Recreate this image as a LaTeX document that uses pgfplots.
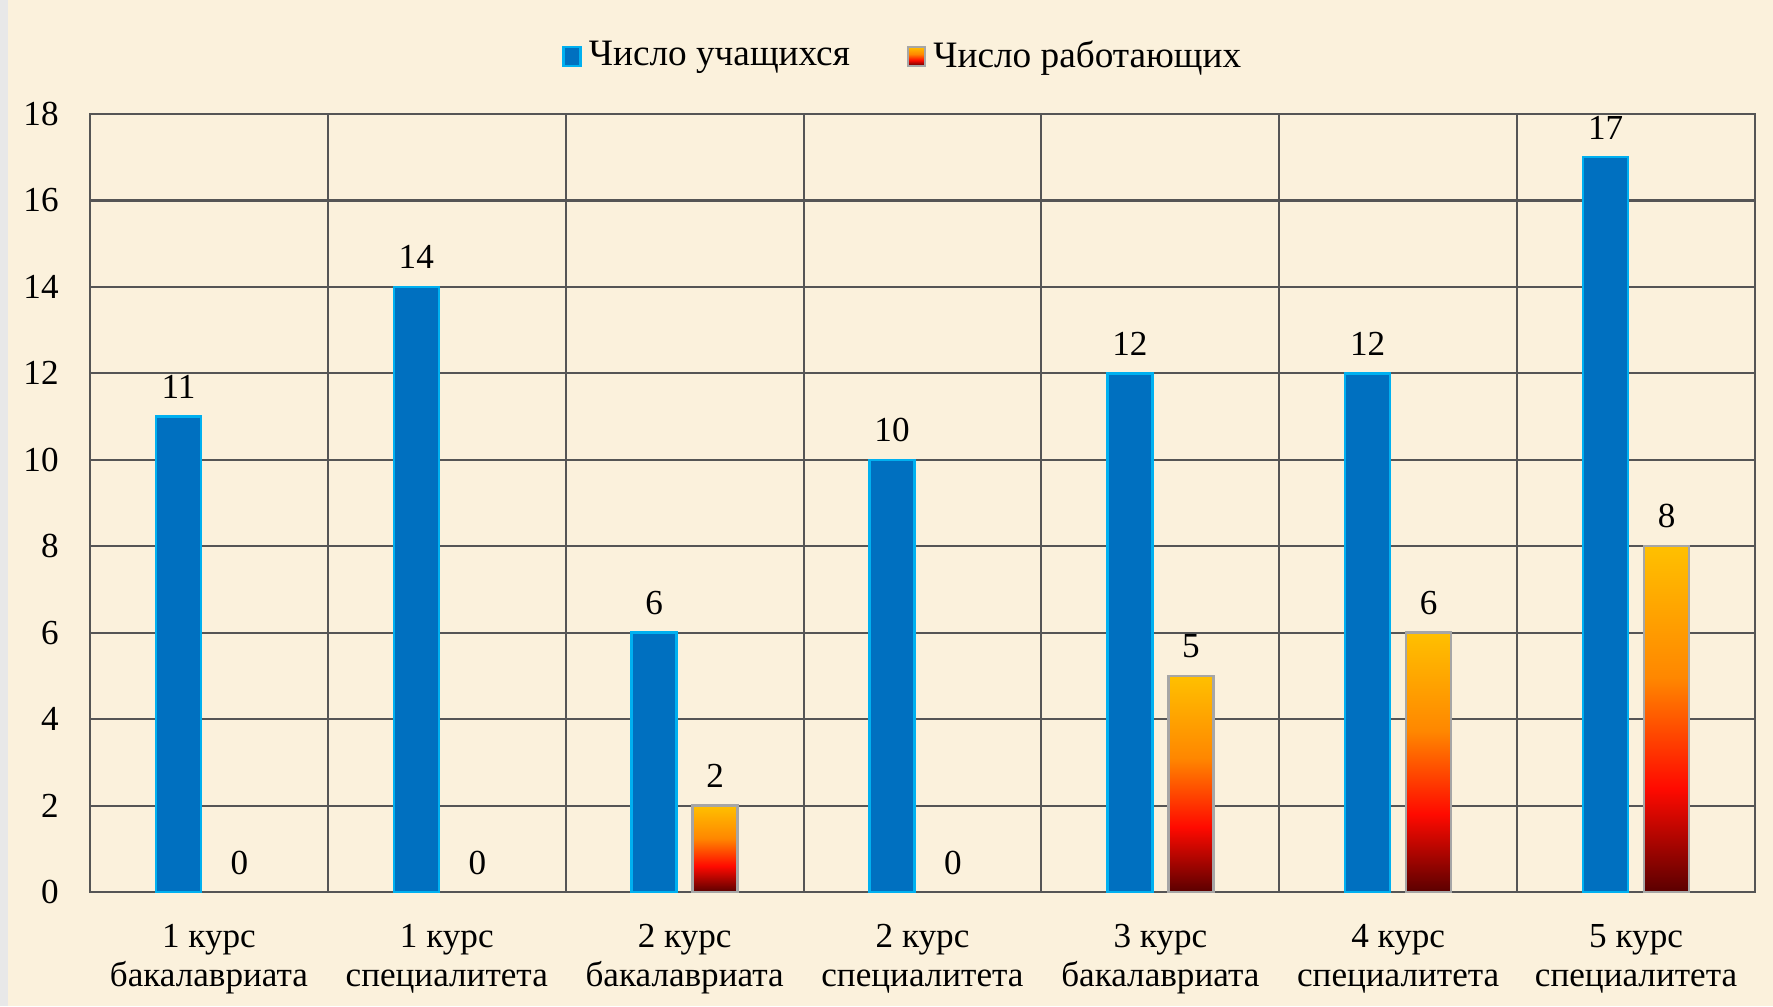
\documentclass[border=0pt]{standalone}
\usepackage{pgfplots}
\pgfplotsset{compat=1.18}
\usepackage{pgfplotstable}
\usepackage{fontspec}
\setmainfont{Liberation Serif}
\definecolor{bg}{RGB}{251,241,220}
\definecolor{stripc}{RGB}{232,232,232}
\definecolor{barblue}{RGB}{0,112,192}
\definecolor{bluebord}{RGB}{0,176,240}
\definecolor{gridc}{RGB}{85,85,85}
\definecolor{fdk}{RGB}{90,0,0}
\definecolor{fred}{RGB}{255,10,0}
\definecolor{forg}{RGB}{255,135,0}
\definecolor{fyel}{RGB}{255,192,0}
\pgfdeclareverticalshading{fire}{100bp}{color(0bp)=(fdk); color(25bp)=(fdk); color(40bp)=(fred); color(56bp)=(forg); color(75bp)=(fyel); color(100bp)=(fyel)}

\pgfplotstableread{
x y
0 11
1 14
2 6
3 10
4 12
5 12
6 17
}\students
\pgfplotstableread{
x y
0 0
1 0
3 0
}\workingzero

\begin{document}
\begin{tikzpicture}
\fill[bg] (0,0) rectangle (17.73,10.06);
\fill[stripc] (0,0) rectangle (0.08,10.06);
\path[use as bounding box] (0,0) rectangle (17.73,10.06);
\begin{axis}[
  at={(0.90cm,1.14cm)}, anchor=south west,
  scale only axis, width=16.65cm, height=7.78cm,
  xmin=-0.5, xmax=6.5, ymin=0, ymax=18,
  ytick={0,2,...,18},
  xtick={0,...,6},
  xticklabels={{1 курс\\бакалавриата},{1 курс\\специалитета},{2 курс\\бакалавриата},{2 курс\\специалитета},{3 курс\\бакалавриата},{4 курс\\специалитета},{5 курс\\специалитета}},
  xticklabel style={align=center, font=\fontsize{10}{11.1}\selectfont, yshift=-0.20cm},
  yticklabel style={font=\fontsize{10}{12}\selectfont, xshift=-0.19cm},
  /pgf/number format/assume math mode=true,
  minor xtick={0.5,1.5,...,5.5},
  xminorgrids, ymajorgrids,
  major grid style={gridc, line width=0.6pt},
  minor grid style={gridc, line width=0.6pt},
  axis line style={gridc, line width=0.6pt},
  major tick length=0pt, minor tick length=0pt,
  ybar, bar width=0.45cm,
  nodes near coords,
  every node near coord/.append style={font=\fontsize{10}{12}\selectfont, black, yshift=0.05cm},
  legend style={at={(0.4897,1.074)}, anchor=center, draw=none, fill=none,
    font=\fontsize{10.6}{12}\selectfont,
    /tikz/every even column/.append style={column sep=0.5cm}},
  legend columns=2,
  legend image code/.code={\draw[#1] (0cm,-0.095cm) rectangle (0.17cm,0.095cm);},
  clip=false,
]
\addplot[fill=barblue, draw=bluebord, line width=0.7pt, bar shift=-0.305cm] table[x=x,y=y] {\students};
\addlegendentry{Число учащихся}
\addplot[shading=fire, shade, draw=gray!70, line width=0.7pt, bar shift=0.305cm] coordinates {(2,2)};
\addlegendentry{Число работающих}
\addplot[shading=fire, shade, draw=gray!70, line width=0.7pt, bar shift=0.305cm, forget plot] coordinates {(4,5)};
\addplot[shading=fire, shade, draw=gray!70, line width=0.7pt, bar shift=0.305cm, forget plot] coordinates {(5,6)};
\addplot[shading=fire, shade, draw=gray!70, line width=0.7pt, bar shift=0.305cm, forget plot] coordinates {(6,8)};
\addplot[draw=none, fill=none, bar shift=0.305cm, forget plot] table[x=x,y=y] {\workingzero};
\end{axis}
\end{tikzpicture}
\end{document}
